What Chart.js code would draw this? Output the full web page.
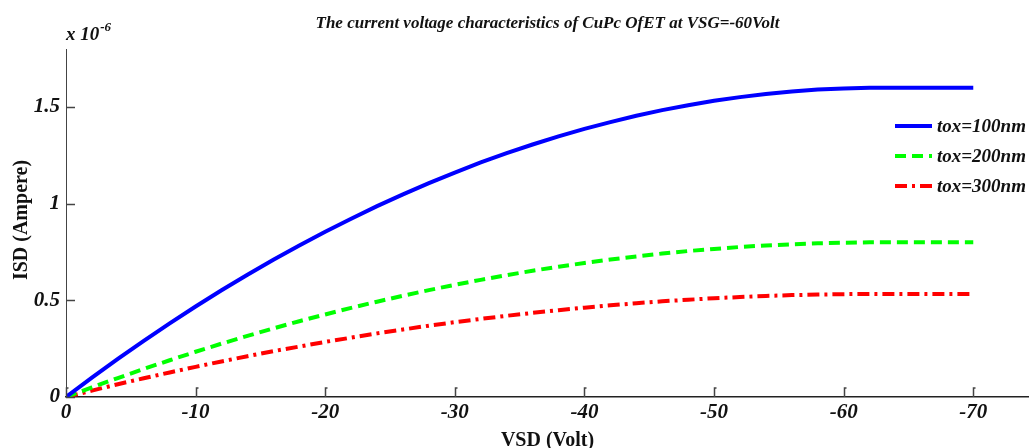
<!DOCTYPE html>
<html>
<head>
<meta charset="utf-8">
<script src="https://cdn.jsdelivr.net/npm/chart.js@4.4.0/dist/chart.umd.min.js"></script>
<style>
  html, body { margin: 0; padding: 0; background: #fff; }
  #wrap { width: 1029px; height: 448px; }
</style>
</head>
<body>
<div id="wrap"><canvas id="ivChart" width="1029" height="448"></canvas></div>
<script>
// VSD values (Volt)
const vsd = [0, -2, -4, -6, -8, -10, -12, -14, -16, -18, -20, -22, -24, -26, -28, -30, -32, -34,
  -36, -38, -40, -42, -44, -46, -48, -50, -52, -54, -56, -58, -60, -62, -64, -66, -68, -70];

// ISD values in units of 1e-6 Ampere
const isd100 = [0, 0.100, 0.197, 0.290, 0.381, 0.468, 0.552, 0.632, 0.710, 0.784, 0.855, 0.922,
  0.987, 1.048, 1.106, 1.161, 1.213, 1.261, 1.306, 1.348, 1.387, 1.422, 1.455, 1.484, 1.509, 1.532,
  1.551, 1.567, 1.580, 1.590, 1.596, 1.600, 1.600, 1.600, 1.600, 1.600];
const isd200 = [0, 0.050, 0.098, 0.145, 0.190, 0.234, 0.276, 0.316, 0.355, 0.392, 0.427, 0.461,
  0.493, 0.524, 0.553, 0.580, 0.606, 0.630, 0.653, 0.674, 0.693, 0.711, 0.727, 0.742, 0.755, 0.766,
  0.776, 0.784, 0.790, 0.795, 0.798, 0.800, 0.800, 0.800, 0.800, 0.800];
const isd300 = [0, 0.033, 0.066, 0.097, 0.127, 0.156, 0.184, 0.211, 0.237, 0.261, 0.285, 0.307,
  0.329, 0.349, 0.369, 0.387, 0.404, 0.420, 0.435, 0.449, 0.462, 0.474, 0.485, 0.495, 0.503, 0.511,
  0.517, 0.523, 0.527, 0.530, 0.532, 0.533, 0.533, 0.533, 0.533, 0.533];

const seriesLabels = ['tox=100nm', 'tox=200nm', 'tox=300nm'];
const yTicks = [0, 0.5, 1, 1.5];
const xTicks = [0, -10, -20, -30, -40, -50, -60, -70];

const serif = '"Liberation Serif", "DejaVu Serif", serif';

function toPoints(ys) {
  return vsd.map((x, i) => ({ x: x, y: ys[i] }));
}

// inward tick marks, MATLAB style
const inwardTicks = {
  id: 'inwardTicks',
  afterDatasetsDraw(chart) {
    const { ctx, chartArea, scales } = chart;
    ctx.save();
    ctx.strokeStyle = '#444';
    ctx.lineWidth = 1.5;
    ctx.beginPath();
    scales.x.ticks.forEach(t => {
      const px = Math.round(scales.x.getPixelForValue(t.value)) + 0.5;
      ctx.moveTo(px, chartArea.bottom);
      ctx.lineTo(px, chartArea.bottom - 9);
      ctx.lineTo(px + 2, chartArea.bottom - 9);
    });
    scales.y.ticks.forEach(t => {
      const py = Math.round(scales.y.getPixelForValue(t.value)) + 0.5;
      ctx.moveTo(chartArea.left, py);
      ctx.lineTo(chartArea.left + 9, py);
    });
    ctx.stroke();
    ctx.restore();
  }
};

// exponent label, axis titles and inside legend
const extras = {
  id: 'extras',
  afterDraw(chart) {
    const { ctx, chartArea } = chart;
    ctx.save();
    ctx.fillStyle = '#111';
    ctx.textBaseline = 'alphabetic';
    ctx.textAlign = 'left';
    ctx.font = 'italic bold 19px ' + serif;
    ctx.fillText('x 10', chartArea.left, chartArea.top - 9);
    const w = ctx.measureText('x 10').width;
    ctx.font = 'italic bold 13px ' + serif;
    ctx.fillText('-6', chartArea.left + w + 1, chartArea.top - 18);

    // axis titles
    ctx.font = 'bold 20px ' + serif;
    ctx.textAlign = 'center';
    ctx.textBaseline = 'middle';
    ctx.fillText('VSD (Volt)', (chartArea.left + chartArea.right) / 2, chartArea.bottom + 44);
    ctx.save();
    ctx.translate(22, (chartArea.top + chartArea.bottom) / 2 - 3);
    ctx.rotate(-Math.PI / 2);
    ctx.fillText('ISD (Ampere)', 0, 0);
    ctx.restore();

    // legend
    ctx.textAlign = 'left';
    const lx = chartArea.right - 134;
    let ly = chartArea.top + 77;
    chart.data.datasets.forEach(ds => {
      ctx.strokeStyle = ds.borderColor;
      ctx.lineWidth = ds.borderWidth;
      ctx.setLineDash(ds.borderDash || []);
      ctx.beginPath();
      ctx.moveTo(lx, ly);
      ctx.lineTo(lx + 37, ly);
      ctx.stroke();
      ctx.setLineDash([]);
      ctx.fillStyle = '#111';
      ctx.font = 'italic bold 19px ' + serif;
      ctx.textBaseline = 'middle';
      ctx.fillText(ds.label, lx + 42, ly + 1);
      ly += 30;
    });
    ctx.restore();
  }
};

const ctx = document.getElementById('ivChart').getContext('2d');
new Chart(ctx, {
  type: 'scatter',
  data: {
    datasets: [
      { label: seriesLabels[0], data: toPoints(isd100), borderColor: '#0000ff', borderWidth: 4 },
      { label: seriesLabels[1], data: toPoints(isd200), borderColor: '#00ff00', borderWidth: 4, borderDash: [11, 6] },
      { label: seriesLabels[2], data: toPoints(isd300), borderColor: '#ff0000', borderWidth: 4, borderDash: [12, 5, 3, 5] }
    ].map(ds => Object.assign(ds, { showLine: true, pointRadius: 0, tension: 0, fill: false }))
  },
  options: {
    responsive: false,
    animation: false,
    layout: { padding: { left: 0, right: 0, top: 0, bottom: 0 } },
    plugins: {
      legend: { display: false },
      tooltip: { enabled: false },
      title: {
        display: true,
        fullSize: false,
        text: 'The current voltage characteristics of CuPc OfET at VSG=-60Volt',
        color: '#111',
        font: { family: serif, size: 17, style: 'italic', weight: 'bold' },
        padding: { top: 13, bottom: 15.6 }
      }
    },
    scales: {
      x: {
        type: 'linear',
        min: -74.3,
        max: 0,
        reverse: true,
        afterBuildTicks: s => { s.ticks = xTicks.map(v => ({ value: v })); },
        afterFit: s => { s.height = 51; },
        ticks: {
          color: '#111',
          padding: 3,
          maxRotation: 0,
          font: { family: serif, size: 21, style: 'italic', weight: 'bold' },
          callback: v => String(v)
        },
        grid: { display: false, drawTicks: false },
        border: { display: true, color: '#222', width: 1.5 }
      },
      y: {
        type: 'linear',
        min: 0,
        max: 1.8,
        afterBuildTicks: s => { s.ticks = yTicks.map(v => ({ value: v })); },
        afterFit: s => { s.width = 66; },
        ticks: {
          color: '#111',
          padding: 6,
          font: { family: serif, size: 21, style: 'italic', weight: 'bold' },
          callback: v => String(v)
        },
        grid: { display: false, drawTicks: false },
        border: { display: true, color: '#444', width: 1 }
      }
    }
  },
  plugins: [inwardTicks, extras]
});
</script>
</body>
</html>
